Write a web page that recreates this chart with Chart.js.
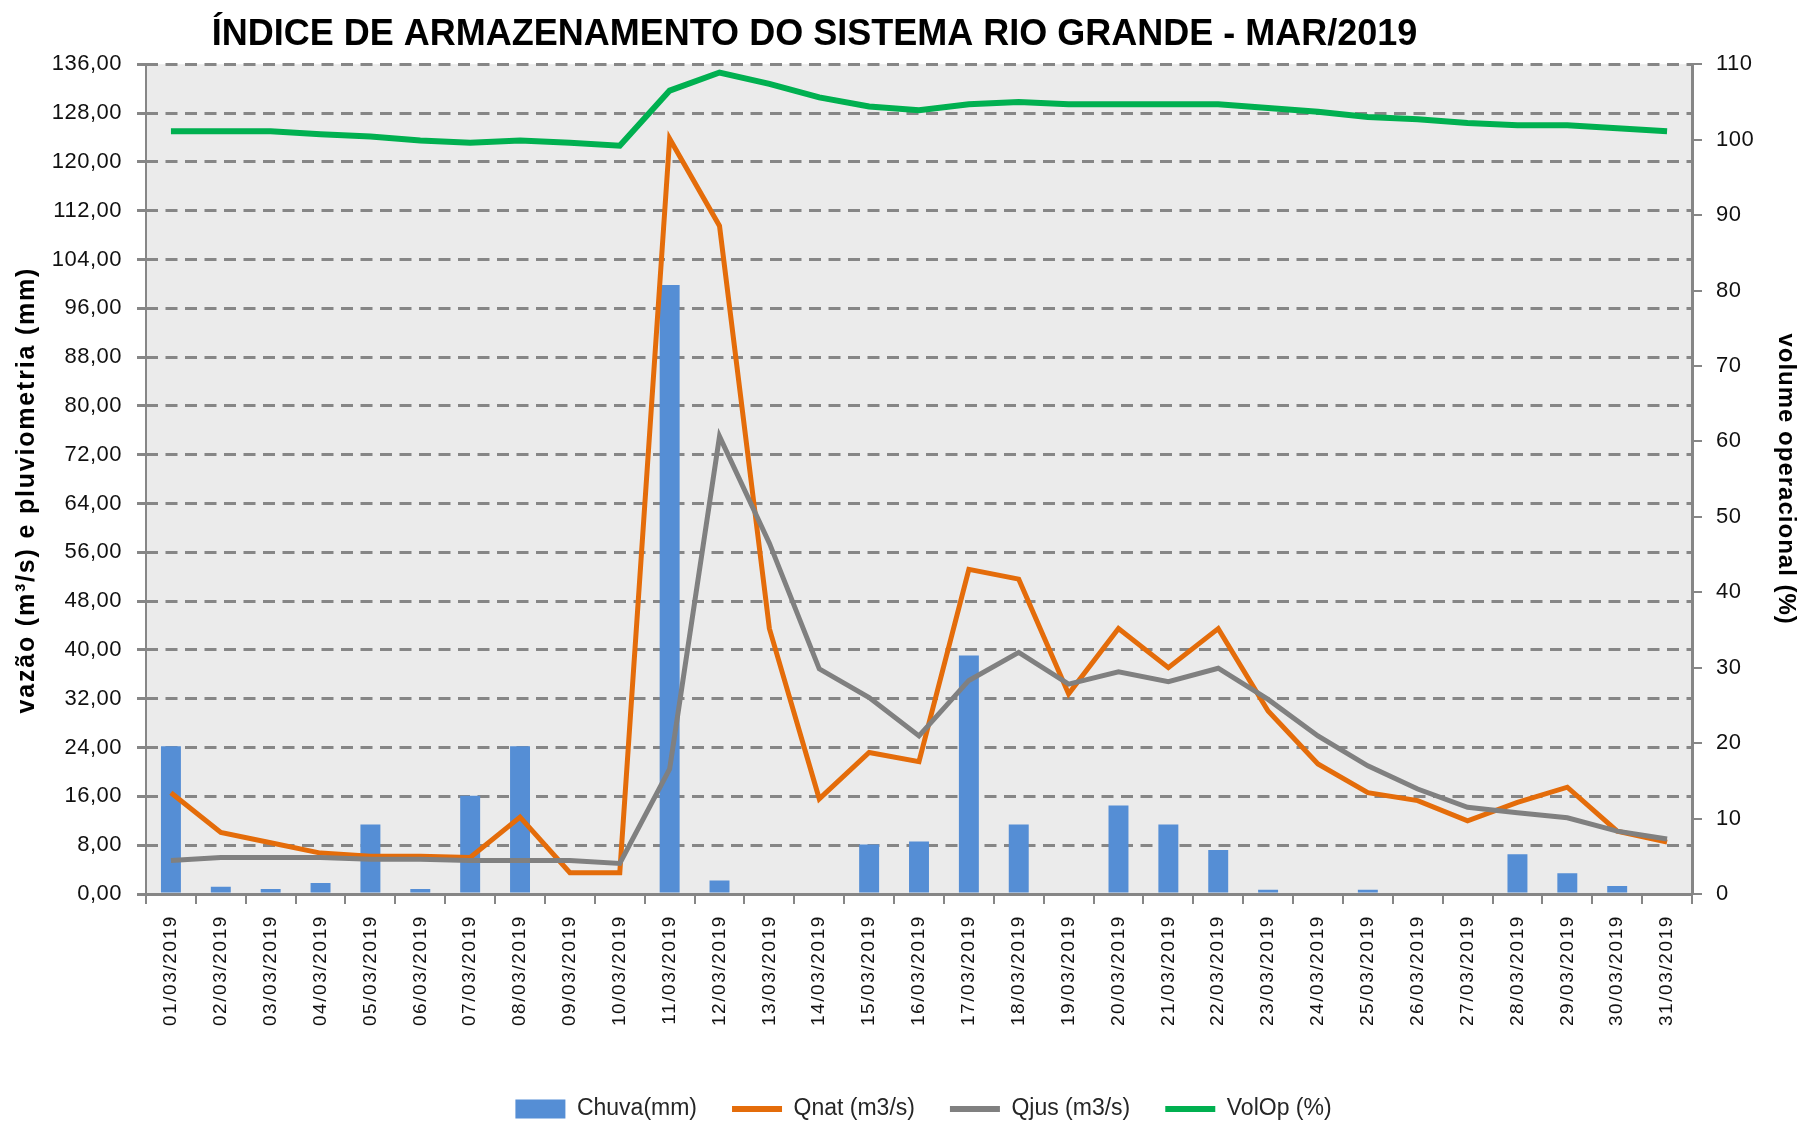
<!DOCTYPE html>
<html>
<head>
<meta charset="utf-8">
<script src="https://cdn.jsdelivr.net/npm/chart.js@4.4.1/dist/chart.umd.min.js"></script>
<style>
  html, body { margin: 0; padding: 0; background: #ffffff; }
  #wrap { width: 1805px; height: 1124px; }
</style>
</head>
<body>
<div id="wrap"><canvas id="c" width="1805" height="1124"></canvas></div>
<script>
// ---- data ----
const categories = ['01/03/2019','02/03/2019','03/03/2019','04/03/2019','05/03/2019','06/03/2019','07/03/2019','08/03/2019','09/03/2019','10/03/2019','11/03/2019','12/03/2019','13/03/2019','14/03/2019','15/03/2019','16/03/2019','17/03/2019','18/03/2019','19/03/2019','20/03/2019','21/03/2019','22/03/2019','23/03/2019','24/03/2019','25/03/2019','26/03/2019','27/03/2019','28/03/2019','29/03/2019','30/03/2019','31/03/2019'];
const chuva = [24.2, 1.2, 0.8, 1.8, 11.4, 0.8, 16.1, 24.2, 0, 0, 99.8, 2.2, 0, 0, 8.1, 8.6, 39.1, 11.4, 0, 14.5, 11.4, 7.2, 0.7, 0, 0.7, 0, 0, 6.5, 3.4, 1.3, 0];
const qnat = [16.6, 10.1, 8.4, 6.7, 6.2, 6.2, 6.0, 12.6, 3.5, 3.5, 123.8, 109.5, 43.5, 15.6, 23.2, 21.7, 53.2, 51.6, 32.8, 43.5, 37.1, 43.5, 30.0, 21.3, 16.6, 15.3, 12.0, 15.0, 17.5, 10.3, 8.5];
const qjus = [5.5, 6.0, 6.0, 6.0, 5.7, 5.7, 5.5, 5.5, 5.5, 5.0, 20.5, 75.0, 57.5, 36.9, 32.2, 25.9, 35.0, 39.6, 34.4, 36.4, 34.8, 37.0, 31.9, 25.9, 21.0, 17.2, 14.2, 13.3, 12.5, 10.3, 9.0];
const volOp = [101.1, 101.1, 101.1, 100.7, 100.4, 99.9, 99.6, 99.9, 99.6, 99.2, 106.5, 108.9, 107.4, 105.6, 104.4, 103.9, 104.7, 105.0, 104.7, 104.7, 104.7, 104.7, 104.2, 103.7, 103.0, 102.7, 102.2, 101.9, 101.9, 101.5, 101.1];
const seriesNames = ['Chuva(mm)', 'Qnat (m3/s)', 'Qjus (m3/s)', 'VolOp (%)'];
const titleText = 'ÍNDICE DE ARMAZENAMENTO DO SISTEMA RIO GRANDE - MAR/2019';
const leftAxisTitle = 'vazão (m³/s) e pluviometria (mm)';
const rightAxisTitle = 'volume operacional (%)';

const GRID = '#868686';
const FONT = "'Liberation Sans', Arial, sans-serif";

function wrapText(obj, method, ls, dy) {
  if (!obj || obj['__w_' + method]) return;
  const orig = obj[method];
  obj[method] = function () {
    const c = this.ctx;
    c.save();
    c.letterSpacing = ls;
    if (dy) c.translate(0, dy);
    try { return orig.apply(this, arguments); } finally { c.restore(); }
  };
  obj['__w_' + method] = true;
}

const helperPlugin = {
  id: 'helper',
  beforeLayout(chart) {
    const s = chart.scales;
    wrapText(s.x, 'drawLabels', '1.6px', 0);
    wrapText(s.y, 'drawLabels', '0.5px', 0);
    wrapText(s.y1, 'drawLabels', '0.5px', 0);
    wrapText(s.y, 'drawTitle', '1.8px', 11);
    wrapText(s.y1, 'drawTitle', '1px', 0);
  },
  afterLayout(chart) {
    const t = chart.titleBlock;
    if (t) { t.left = 0; t.right = 1629; }
    const l = chart.legend;
    if (l) { l.right += 9; l.top += 6.5; l.bottom += 6.5; }
  },
  beforeDraw(chart) {
    const {ctx, chartArea: a} = chart;
    ctx.save();
    ctx.fillStyle = '#ffffff';
    ctx.fillRect(0, 0, chart.width, chart.height);
    ctx.fillStyle = '#EBEBEB';
    ctx.fillRect(a.left, a.top, a.right - a.left, a.bottom - a.top);
    ctx.restore();
  }
};

new Chart(document.getElementById('c'), {
  data: {
    labels: categories,
    datasets: [
      { type: 'bar', label: seriesNames[0], data: chuva, yAxisID: 'y', backgroundColor: '#558ED5', borderWidth: 0, barPercentage: 0.4, categoryPercentage: 1.0, order: 4 },
      { type: 'line', label: seriesNames[1], data: qnat, yAxisID: 'y', borderColor: '#E46C0A', backgroundColor: '#E46C0A', borderWidth: 5, pointRadius: 0, tension: 0, order: 3 },
      { type: 'line', label: seriesNames[2], data: qjus, yAxisID: 'y', borderColor: '#808080', backgroundColor: '#808080', borderWidth: 5, pointRadius: 0, tension: 0, order: 2 },
      { type: 'line', label: seriesNames[3], data: volOp, yAxisID: 'y1', borderColor: '#00B050', backgroundColor: '#00B050', borderWidth: 6, pointRadius: 0, tension: 0, order: 1 }
    ]
  },
  options: {
    responsive: false,
    animation: false,
    devicePixelRatio: 1,
    layout: { padding: 0 },
    plugins: {
      tooltip: { enabled: false },
      title: {
        display: true,
        text: titleText,
        color: '#000000',
        font: { family: FONT, size: 36, weight: 'bold', lineHeight: 1.2 },
        padding: { top: 13, bottom: 8 }
      },
      legend: {
        position: 'bottom',
        fullSize: false,
        labels: {
          color: '#262626',
          font: { family: FONT, size: 23 },
          usePointStyle: true,
          pointStyleWidth: 50,
          boxHeight: 19,
          padding: 35,
          generateLabels(chart) {
            const items = Chart.defaults.plugins.legend.labels.generateLabels(chart);
            items.forEach(it => {
              const ds = chart.data.datasets[it.datasetIndex];
              if (ds.type === 'bar') {
                it.pointStyle = 'rect'; it.lineWidth = 0; it.fillStyle = ds.backgroundColor; it.strokeStyle = ds.backgroundColor;
              } else {
                it.pointStyle = 'line'; it.lineWidth = 6; it.strokeStyle = ds.borderColor;
              }
            });
            return items.sort((a, b) => a.datasetIndex - b.datasetIndex);
          }
        }
      }
    },
    scales: {
      x: {
        type: 'category',
        offset: true,
        grid: { display: true, drawOnChartArea: false, drawTicks: true, tickLength: 10, offset: true, color: GRID, lineWidth: 2 },
        border: { display: true, color: GRID, width: 3 },
        ticks: { autoSkip: false, minRotation: 90, maxRotation: 90, padding: 11, color: '#111111', font: { family: FONT, size: 19 } },
        afterFit(scale) { scale.height = 162; }
      },
      y: {
        type: 'linear',
        position: 'left',
        min: 0, max: 136,
        grid: { color: GRID, lineWidth: 3, tickLength: 9, tickBorderDash: [], drawTicks: true },
        border: { display: true, color: GRID, width: 2, dash: [12, 7.5], dashOffset: 1 },
        ticks: { stepSize: 8, padding: 15, color: '#111111', font: { family: FONT, size: 22 },
                 callback: v => v.toFixed(2).replace('.', ',') },
        title: { display: true, text: leftAxisTitle, color: '#000000', font: { family: FONT, size: 25, weight: 'bold', lineHeight: 1.2 }, padding: { top: 12, bottom: 0 } },
        afterFit(scale) { scale.width = 146; }
      },
      y1: {
        type: 'linear',
        position: 'right',
        min: 0, max: 110,
        grid: { drawOnChartArea: false, drawTicks: true, tickLength: 10, color: GRID, lineWidth: 2 },
        border: { display: true, color: GRID, width: 3 },
        ticks: { stepSize: 10, padding: 14, color: '#111111', font: { family: FONT, size: 22 } },
        title: { display: true, text: rightAxisTitle, color: '#000000', font: { family: FONT, size: 24, weight: 'bold', lineHeight: 1.2 }, padding: { top: 5, bottom: 0 } },
        afterFit(scale) { scale.width = 113; }
      }
    }
  },
  plugins: [helperPlugin]
});
</script>
</body>
</html>
